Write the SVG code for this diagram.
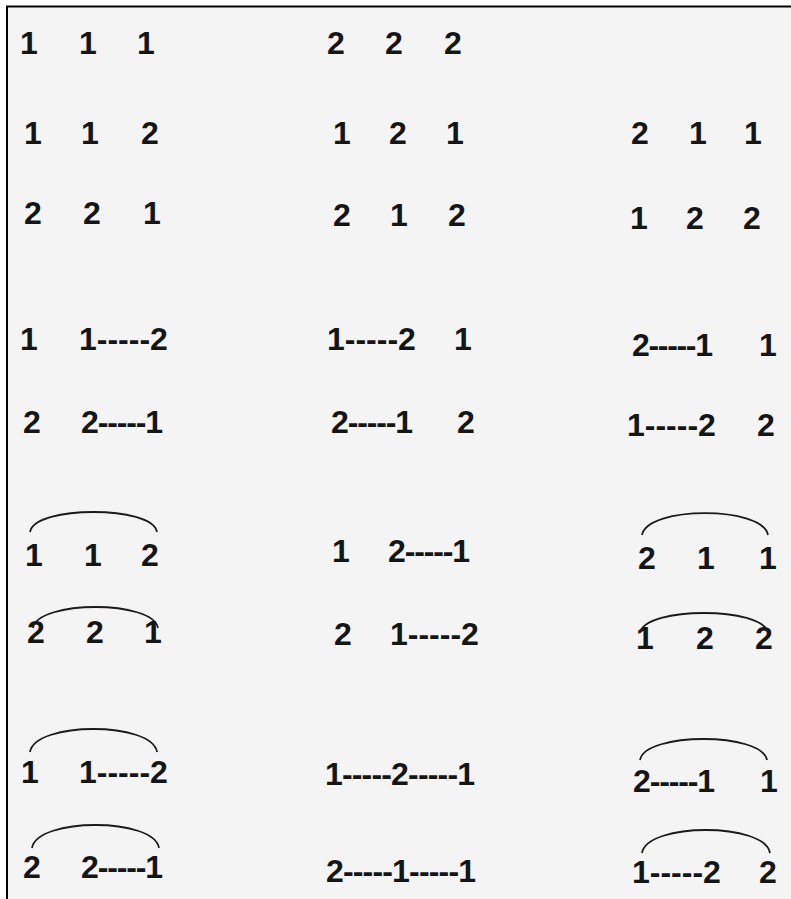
<svg xmlns="http://www.w3.org/2000/svg" width="791" height="899" viewBox="0 0 791 899">
<style>
text{font-family:"Liberation Sans",Arial,sans-serif;font-size:32px;font-weight:bold;fill:#151515}
.arc{fill:none;stroke:#1a1a1a;stroke-width:1.8}
</style>
<rect x="0" y="0" width="791" height="899" fill="#ffffff"/>
<rect x="7" y="6" width="784" height="893" fill="#f4f4f4"/>
<line x1="6" y1="6.5" x2="791" y2="6.5" stroke="#000" stroke-width="2"/>
<line x1="7" y1="6" x2="7" y2="899" stroke="#000" stroke-width="2"/>
<g id="r1c1"><text x="20" y="54">1</text><text x="79" y="54">1</text><text x="137" y="54">1</text></g>
<g id="r1c2"><text x="327" y="54">2</text><text x="385" y="54">2</text><text x="444" y="54">2</text></g>
<g id="r2c1"><text x="24" y="144">1</text><text x="81" y="144">1</text><text x="141" y="144">2</text></g>
<g id="r2c2"><text x="333" y="144">1</text><text x="389" y="144">2</text><text x="446" y="144">1</text></g>
<g id="r2c3"><text x="631" y="144">2</text><text x="689" y="144">1</text><text x="744" y="144">1</text></g>
<g id="r3c1"><text x="24" y="224">2</text><text x="83" y="224">2</text><text x="143" y="224">1</text></g>
<g id="r3c2"><text x="333" y="226">2</text><text x="390" y="226">1</text><text x="448" y="226">2</text></g>
<g id="r3c3"><text x="630" y="229">1</text><text x="686" y="229">2</text><text x="743" y="229">2</text></g>
<g id="r4c1"><text x="20" y="350">1</text><text x="79" y="350">1-----2</text></g>
<g id="r4c2"><text x="327" y="350">1-----2</text><text x="454" y="350">1</text></g>
<g id="r4c3"><text x="632" y="356" textLength="81">2-----1</text><text x="759" y="356">1</text></g>
<g id="r5c1"><text x="23" y="433">2</text><text x="81" y="433" textLength="82">2-----1</text></g>
<g id="r5c2"><text x="331" y="433" textLength="82">2-----1</text><text x="457" y="433">2</text></g>
<g id="r5c3"><text x="627" y="436">1-----2</text><text x="757" y="436">2</text></g>
<g id="r6c1"><text x="25" y="566">1</text><text x="84" y="566">1</text><text x="141" y="566">2</text></g>
<g id="r6c2"><text x="332" y="562">1</text><text x="388" y="562" textLength="82">2-----1</text></g>
<g id="r6c3"><text x="638" y="569">2</text><text x="697" y="569">1</text><text x="759" y="569">1</text></g>
<g id="r7c1"><text x="27" y="643">2</text><text x="86" y="643">2</text><text x="144" y="643">1</text></g>
<g id="r7c2"><text x="334" y="645">2</text><text x="390" y="645">1-----2</text></g>
<g id="r7c3"><text x="636" y="649">1</text><text x="696" y="649">2</text><text x="755" y="649">2</text></g>
<g id="r8c1"><text x="21" y="783">1</text><text x="79" y="783">1-----2</text></g>
<g id="r8c2"><text x="325" y="785" textLength="150">1-----2-----1</text></g>
<g id="r8c3"><text x="633" y="792" textLength="82">2-----1</text><text x="760" y="792">1</text></g>
<g id="r9c1"><text x="23" y="878">2</text><text x="81" y="878" textLength="82">2-----1</text></g>
<g id="r9c2"><text x="326" y="882" textLength="150">2-----1-----1</text></g>
<g id="r9c3"><text x="632" y="883">1-----2</text><text x="759" y="883">2</text></g>
<g id="connectors">
<path class="arc" d="M30,532 C35,505.3 152,505.3 157,532"/>
<path class="arc" d="M33,628 C38,600 153,600 158,628"/>
<path class="arc" d="M30,752 C35,721.3 152,721.3 157,752"/>
<path class="arc" d="M32,848 C37,817.3 154,817.3 159,848"/>
<path class="arc" d="M642,535 C647,505.7 763,505.7 768,535"/>
<path class="arc" d="M640,633 C645,606.3 763,606.3 768,633"/>
<path class="arc" d="M640,760 C645,732 762,732 767,760"/>
<path class="arc" d="M642,853 C647,822.3 765,822.3 770,853"/>
</g>
</svg>
